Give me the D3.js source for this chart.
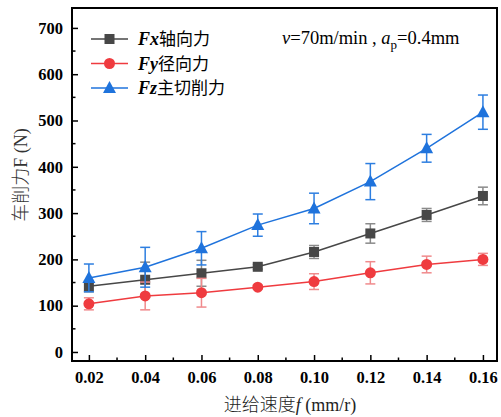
<!DOCTYPE html>
<html><head><meta charset="utf-8">
<script src="https://cdn.jsdelivr.net/npm/d3@7"></script>
<style>body{margin:0;background:#fff}svg{display:block}</style>
</head><body>
<svg id="c" width="501" height="417"></svg>
<script>
const feeds = [0.02, 0.04, 0.06, 0.08, 0.10, 0.12, 0.14, 0.16];
const fxValues = [142, 156, 170, 184, 216, 256, 296, 337];
const fxErrors = [12, 38, 28, 5, 14, 21, 14, 19];
const fyValues = [104, 121, 128, 140, 152, 171, 189, 200];
const fyErrors = [13, 30, 31, 4, 17, 24, 18, 13];
const fzValues = [160, 183, 224, 274, 310, 368, 440, 518];
const fzErrors = [30, 43, 36, 24, 33, 39, 30, 37];
const xTicks = [0.02, 0.04, 0.06, 0.08, 0.10, 0.12, 0.14, 0.16];
const yTicks = [0, 100, 200, 300, 400, 500, 600, 700];
const seriesNames = ["Fx", "Fy", "Fz"];
const seriesCn = ["轴向力", "径向力", "主切削力"];

const svg = d3.select("#c");
const L = 72, R = 497, T = 8, B = 361;
const x = d3.scaleLinear().domain([0.014, 0.165]).range([L, R]);
const y = d3.scaleLinear().domain([-19.5, 743]).range([B, T]);

const series = [
  {name: seriesNames[0], cn: seriesCn[0], v: fxValues, e: fxErrors, color: "#474747", ecolor: "#8a8a8a", shape: "square"},
  {name: seriesNames[1], cn: seriesCn[1], v: fyValues, e: fyErrors, color: "#ef3b3f", ecolor: "#f08a8c", shape: "circle"},
  {name: seriesNames[2], cn: seriesCn[2], v: fzValues, e: fzErrors, color: "#1f73dc", ecolor: "#2d7ee0", shape: "triangle"}
];

const serif = "'Liberation Serif','Times New Roman',serif";
const cjk = "'Noto Sans CJK SC',sans-serif";

// minor ticks
const yMinor = d3.range(50, 700, 100);
const xMinor = d3.range(0.03, 0.16, 0.02);
svg.append("g").selectAll("line").data(yMinor).join("line")
  .attr("x1", L).attr("x2", L + 3.5).attr("y1", d => y(d)).attr("y2", d => y(d))
  .attr("stroke", "#000").attr("stroke-width", 1.5);
svg.append("g").selectAll("line").data(xMinor).join("line")
  .attr("x1", d => x(d)).attr("x2", d => x(d)).attr("y1", B).attr("y2", B - 3.5)
  .attr("stroke", "#000").attr("stroke-width", 1.5);

// axes
const yAxis = svg.append("g").attr("transform", `translate(${L},0)`)
  .call(d3.axisLeft(y).tickValues(yTicks).tickSize(-6).tickPadding(9).tickFormat(d3.format("d")));
const xAxis = svg.append("g").attr("transform", `translate(0,${B})`)
  .call(d3.axisBottom(x).tickValues(xTicks).tickSize(-6).tickPadding(10).tickFormat(d3.format(".2f")));
[yAxis, xAxis].forEach(g => {
  g.select(".domain").remove();
  g.selectAll(".tick line").attr("stroke", "#000").attr("stroke-width", 1.5);
  g.selectAll(".tick text").attr("fill", "#000").style("font-family", serif)
    .style("font-weight", "bold").style("font-size", "16.5px");
});
xAxis.selectAll(".tick text").attr("dy", "0.72em");

// frame
svg.append("rect").attr("x", L).attr("y", T).attr("width", R - L).attr("height", B - T)
  .attr("fill", "none").attr("stroke", "#000").attr("stroke-width", 2);

function marker(g, shape, color, cx, cy) {
  if (shape === "square") {
    g.append("rect").attr("x", cx - 5).attr("y", cy - 5).attr("width", 10).attr("height", 10).attr("fill", color);
  } else if (shape === "circle") {
    g.append("circle").attr("cx", cx).attr("cy", cy).attr("r", 5.5).attr("fill", color);
  } else {
    g.append("path").attr("d", `M${cx},${cy - 7}L${cx + 6.5},${cy + 5}L${cx - 6.5},${cy + 5}Z`).attr("fill", color);
  }
}

const line = d3.line().x(d => x(d[0])).y(d => y(d[1]));
series.forEach(s => {
  const g = svg.append("g");
  const pts = feeds.map((f, i) => [f, s.v[i], s.e[i]]);
  pts.forEach(p => {
    const cx = x(p[0]);
    g.append("line").attr("x1", cx).attr("x2", cx).attr("y1", y(p[1] - p[2])).attr("y2", y(p[1] + p[2]))
      .attr("stroke", s.ecolor).attr("stroke-width", 1.5);
    [p[1] - p[2], p[1] + p[2]].forEach(v => {
      g.append("line").attr("x1", cx - 5).attr("x2", cx + 5).attr("y1", y(v)).attr("y2", y(v))
        .attr("stroke", s.ecolor).attr("stroke-width", 1.5);
    });
  });
  g.append("path").datum(pts).attr("d", line).attr("fill", "none").attr("stroke", s.color).attr("stroke-width", 1.5);
  pts.forEach(p => marker(g, s.shape, s.color, x(p[0]), y(p[1])));
});

// legend
series.forEach((s, i) => {
  const ly = 39 + i * 24.5;
  const g = svg.append("g");
  g.append("line").attr("x1", 91).attr("x2", 128).attr("y1", ly).attr("y2", ly).attr("stroke", s.color).attr("stroke-width", 1.5);
  marker(g, s.shape, s.color, 109.5, ly);
  const t = g.append("text").attr("x", 138).attr("y", ly + 6).style("font-size", "18px").attr("fill", "#000");
  t.append("tspan").text(s.name).style("font-family", serif).style("font-weight", "bold").style("font-style", "italic");
  t.append("tspan").text(s.cn).style("font-family", cjk).style("font-size", "17px");
});

// annotation
const ann = svg.append("text").attr("x", 282).attr("y", 44).style("font-family", serif).style("font-size", "18.5px").attr("fill", "#000");
ann.append("tspan").text("v").style("font-style", "italic");
ann.append("tspan").text("=70m/min , ");
ann.append("tspan").text("a").style("font-style", "italic");
ann.append("tspan").text("p").attr("dy", 5).style("font-size", "13px");
ann.append("tspan").text("=0.4mm").attr("dy", -5);

// axis titles
const xt = svg.append("text").attr("x", 290).attr("y", 411).attr("text-anchor", "middle")
  .style("font-size", "18px").attr("fill", "#222");
xt.append("tspan").text("进给速度").style("font-family", cjk).style("font-weight", "300");
xt.append("tspan").text("f").style("font-family", serif).style("font-style", "italic");
xt.append("tspan").text(" (mm/r)").style("font-family", serif);

const yt = svg.append("text").attr("transform", "translate(27,175) rotate(-90)").attr("text-anchor", "middle")
  .style("font-size", "18px").attr("fill", "#333");
yt.append("tspan").text("车削力").style("font-family", cjk).style("font-weight", "300");
yt.append("tspan").text("F (N)").style("font-family", serif);
</script>
</body></html>
